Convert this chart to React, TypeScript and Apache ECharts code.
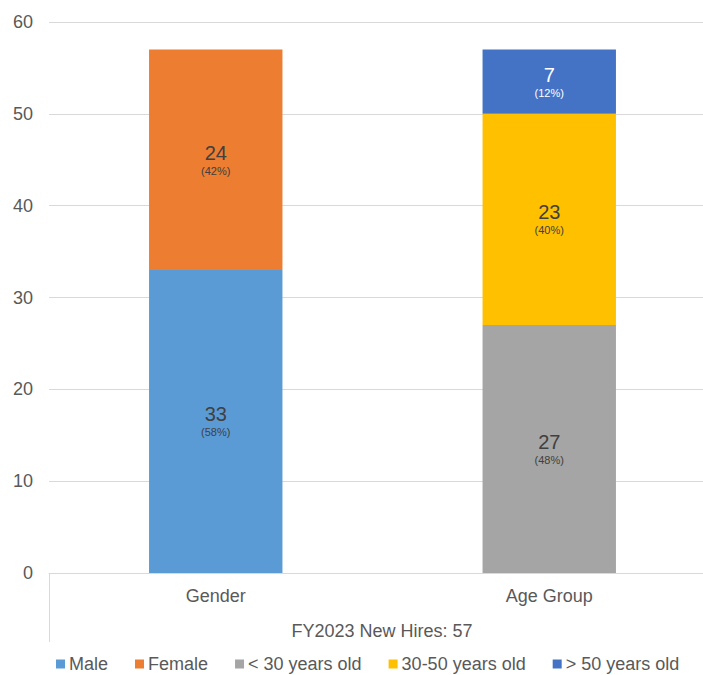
import React, { useEffect, useRef } from "react";
import * as echarts from "echarts";

const categories = ["Gender", "Age Group"];
const seriesNames = ["Male", "Female", "< 30 years old", "30-50 years old", "> 50 years old"];
const seriesColors = ["#5B9BD5", "#ED7D31", "#A5A5A5", "#FFC000", "#4472C4"];
const maleValues = [33, null];
const femaleValues = [24, null];
const under30Values = [null, 27];
const mid30to50Values = [null, 23];
const over50Values = [null, 7];
const malePct = [58, null];
const femalePct = [42, null];
const under30Pct = [null, 48];
const mid30to50Pct = [null, 40];
const over50Pct = [null, 12];
const yTicks = { min: 0, max: 60, interval: 10 };
const footnote = "FY2023 New Hires: 57";

const FONT = "'Liberation Sans', Arial, sans-serif";

export default function App() {
  const ref = useRef<HTMLDivElement>(null);

  useEffect(() => {
    if (!ref.current) return;
    const chart = echarts.init(ref.current, undefined, { renderer: "svg" });

    const values = [maleValues, femaleValues, under30Values, mid30to50Values, over50Values];
    const pcts = [malePct, femalePct, under30Pct, mid30to50Pct, over50Pct];

    const series = seriesNames.map((name, i) => ({
      name,
      type: "bar",
      stack: "total",
      barWidth: "40%",
      itemStyle: { color: seriesColors[i] },
      data: values[i].map((v, j) =>
        v == null ? "-" : { value: v, pct: pcts[i][j] }
      ),
      label: {
        show: true,
        position: "inside",
        formatter: (p: any) =>
          `{v|${p.data.value}}\n{p|(${p.data.pct}%)}`,
        rich: {
          v: {
            fontSize: 20,
            lineHeight: 22,
            fontFamily: FONT,
            color: i === 4 ? "#FFFFFF" : "#404040",
          },
          p: {
            fontSize: 11,
            lineHeight: 14,
            fontFamily: FONT,
            color: i === 4 ? "#FFFFFF" : "#404040",
          },
        },
      },
    }));

    chart.setOption({
      animation: false,
      backgroundColor: "#FFFFFF",
      grid: {
        left: 49,
        width: 667,
        top: 22,
        bottom: 102,
        containLabel: false,
        outerBoundsMode: "none",
      },
      legend: {
        top: 650,
        left: 51,
        itemWidth: 9,
        itemHeight: 9,
        itemGap: 27,
        icon: "rect",
        textStyle: { fontSize: 18, color: "#595959", fontFamily: FONT, padding: [0, 0, 0, -1] },
        data: seriesNames,
      },
      xAxis: {
        type: "category",
        data: categories,
        axisLine: { show: true, lineStyle: { color: "#D9D9D9", width: 1 } },
        axisTick: { show: false },
        axisLabel: { fontSize: 18, color: "#595959", fontFamily: FONT, margin: 14 },
      },
      yAxis: {
        type: "value",
        min: yTicks.min,
        max: yTicks.max,
        interval: yTicks.interval,
        axisLine: { show: false },
        axisTick: { show: false },
        splitLine: { lineStyle: { color: "#D9D9D9", width: 1 } },
        axisLabel: { fontSize: 18, color: "#595959", fontFamily: FONT, margin: 16 },
      },
      graphic: [
        {
          type: "line",
          shape: { x1: 49.5, y1: 573, x2: 49.5, y2: 642 },
          style: { stroke: "#D9D9D9", lineWidth: 1 },
          silent: true,
        },
        {
          type: "text",
          x: 382,
          y: 631,
          style: {
            text: footnote,
            fontSize: 18,
            fill: "#595959",
            fontFamily: FONT,
            align: "center",
            verticalAlign: "middle",
          },
        },
      ],
      series,
    });

    return () => chart.dispose();
  }, []);

  return (
    <div
      ref={ref}
      style={{ position: "fixed", left: 0, top: 0, width: 703, height: 675 }}
    />
  );
}
